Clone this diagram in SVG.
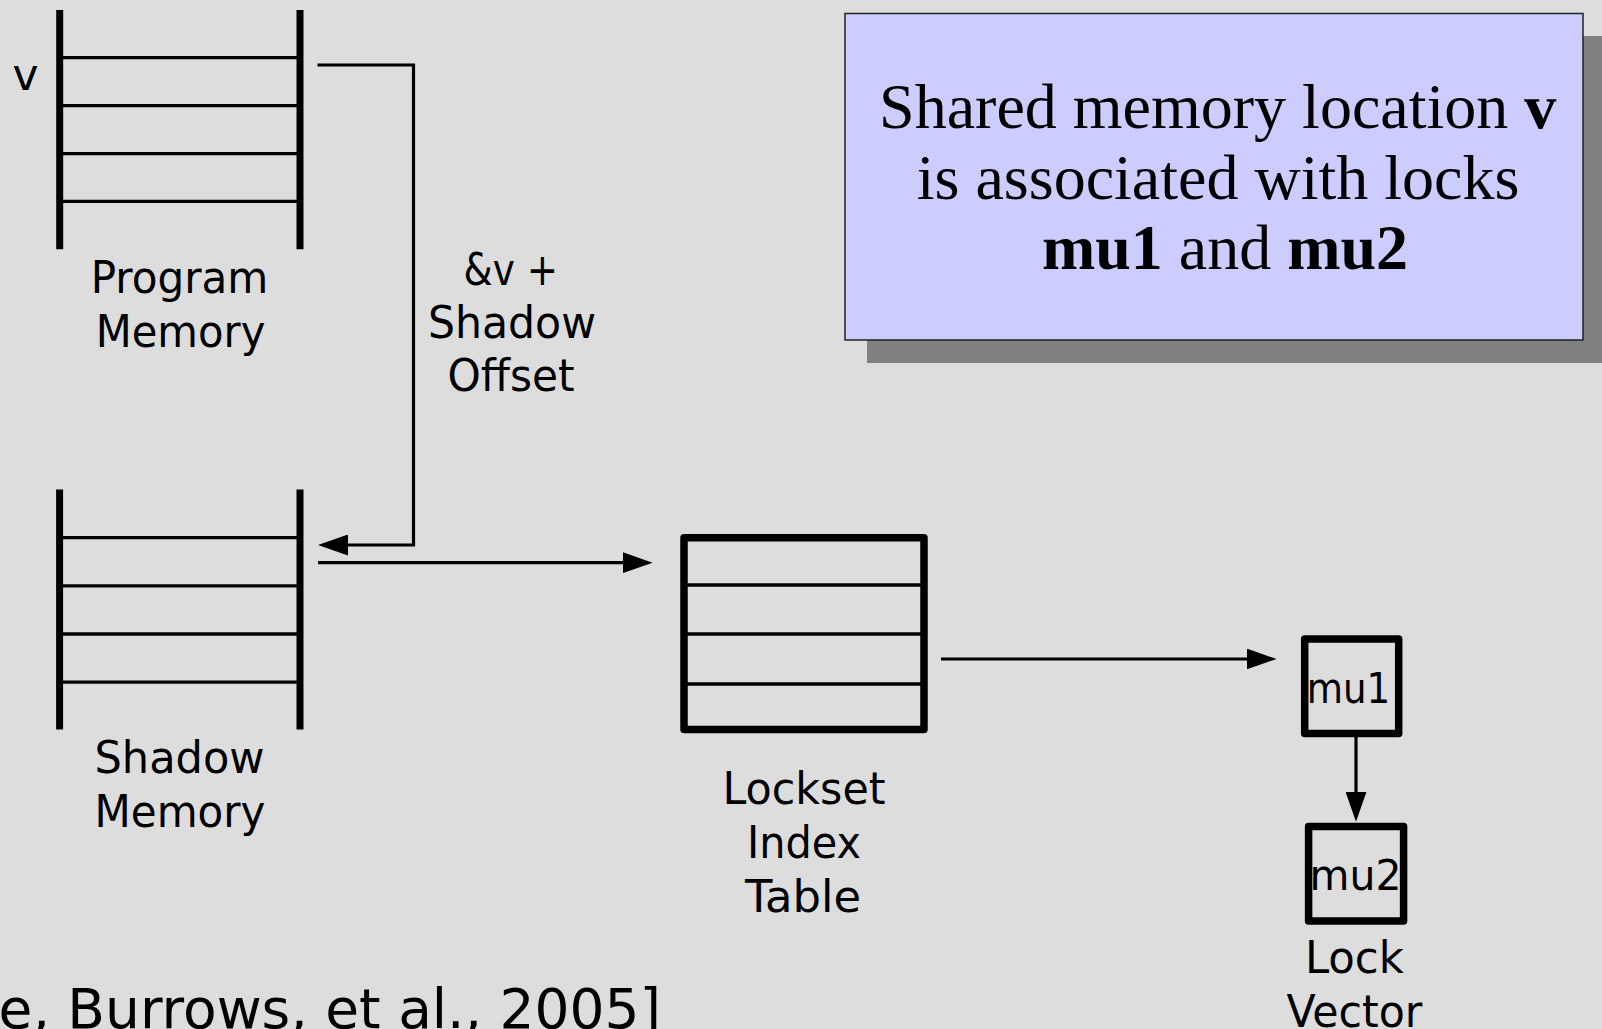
<svg xmlns="http://www.w3.org/2000/svg" width="1602" height="1029" viewBox="0 0 1602 1029">
<style>
.lbl{font-family:"DejaVu Sans","Liberation Sans",sans-serif;font-size:44px;fill:#000;text-anchor:middle}
.mu{font-size:42px}
.rail{stroke:#000;stroke-width:7;fill:none}
.rung{stroke:#000;stroke-width:3.3;fill:none}
.box{stroke:#000;stroke-width:7.5;fill:none;stroke-linejoin:round}
.conn{stroke:#000;stroke-width:3.2;fill:none}
.note{font-family:"Liberation Serif","Times New Roman",serif;font-size:64px;fill:#000;text-anchor:middle}
</style>
<defs>
<marker id="arr" markerUnits="userSpaceOnUse" markerWidth="30" markerHeight="21" viewBox="0 0 30 21" refX="5" refY="10.5" orient="auto">
<path d="M0,0 L30,10.5 L0,21 z" fill="#000"/>
</marker>
</defs>
<rect x="0" y="0" width="1602" height="1029" fill="#dddddd"/>

<g id="program-memory">
<line class="rail" x1="59.7" y1="10" x2="59.7" y2="249.3"/>
<line class="rail" x1="300" y1="10" x2="300" y2="249.3"/>
<line class="rung" x1="59.7" y1="57.7" x2="300" y2="57.7"/>
<line class="rung" x1="59.7" y1="105.7" x2="300" y2="105.7"/>
<line class="rung" x1="59.7" y1="153.7" x2="300" y2="153.7"/>
<line class="rung" x1="59.7" y1="201.3" x2="300" y2="201.3"/>
<text class="lbl" x="25.5" y="90">v</text>
<text class="lbl" x="179.5" y="293.3" textLength="177.6" lengthAdjust="spacingAndGlyphs">Program</text>
<text class="lbl" x="180.5" y="346.5" textLength="169.7" lengthAdjust="spacingAndGlyphs">Memory</text>
</g>

<g id="shadow-memory">
<line class="rail" x1="59.6" y1="489.6" x2="59.6" y2="729.5"/>
<line class="rail" x1="300" y1="489.6" x2="300" y2="729.5"/>
<line class="rung" x1="59.6" y1="537.7" x2="300" y2="537.7"/>
<line class="rung" x1="59.6" y1="585.9" x2="300" y2="585.9"/>
<line class="rung" x1="59.6" y1="634" x2="300" y2="634"/>
<line class="rung" x1="59.6" y1="682.1" x2="300" y2="682.1"/>
<text class="lbl" x="179.5" y="773" textLength="170" lengthAdjust="spacingAndGlyphs">Shadow</text>
<text class="lbl" x="180" y="826.5" textLength="171" lengthAdjust="spacingAndGlyphs">Memory</text>
</g>

<g id="lockset-index-table">
<rect class="box" x="684" y="537.8" width="240" height="191.7"/>
<line class="rung" x1="684" y1="585" x2="924" y2="585"/>
<line class="rung" x1="684" y1="634" x2="924" y2="634"/>
<line class="rung" x1="684" y1="684" x2="927" y2="684"/>
<text class="lbl" x="804" y="804" textLength="163" lengthAdjust="spacingAndGlyphs">Lockset</text>
<text class="lbl" x="804" y="858" textLength="114" lengthAdjust="spacingAndGlyphs">Index</text>
<text class="lbl" x="803" y="911.5" textLength="116" lengthAdjust="spacingAndGlyphs">Table</text>
</g>

<g id="mu1">
<rect class="box" x="1304.7" y="638.9" width="94" height="94.5"/>
<text class="lbl mu" x="1348.5" y="702.7" textLength="83.5" lengthAdjust="spacingAndGlyphs">mu1</text>
</g>

<g id="mu2">
<rect class="box" x="1308.6" y="826.6" width="95" height="94.4"/>
<text class="lbl mu" x="1355.5" y="890" textLength="92" lengthAdjust="spacingAndGlyphs">mu2</text>
</g>

<g id="lock-vector-label">
<text class="lbl" x="1354.4" y="973.3" textLength="99" lengthAdjust="spacingAndGlyphs">Lock</text>
<text class="lbl" x="1354.4" y="1026.5" textLength="136" lengthAdjust="spacingAndGlyphs">Vector</text>
</g>

<g id="offset-label">
<text class="lbl" x="510.8" y="285" textLength="94.4" lengthAdjust="spacingAndGlyphs">&amp;v +</text>
<text class="lbl" x="512" y="338" textLength="168" lengthAdjust="spacingAndGlyphs">Shadow</text>
<text class="lbl" x="511" y="390.5" textLength="127" lengthAdjust="spacingAndGlyphs">Offset</text>
</g>

<g id="note">
<rect x="867" y="36" width="760" height="327" fill="#808080"/>
<rect x="845" y="13.5" width="738" height="326.5" fill="#ccccff" stroke="#222" stroke-width="1.5"/>
<text class="note" x="1217.7" y="128.3">Shared memory location <tspan font-weight="bold">v</tspan></text>
<text class="note" x="1218" y="199.3">is associated with locks</text>
<text class="note" x="1225" y="269.3"><tspan font-weight="bold">mu1</tspan> and <tspan font-weight="bold">mu2</tspan></text>
</g>

<g id="citation">
<text x="661" y="1027.5" font-family="DejaVu Sans, Liberation Sans, sans-serif" font-size="55" text-anchor="end" fill="#000">e, Burrows, et al., 2005]</text>
</g>

<g id="connectors">
<path class="conn" d="M317.5,65 H413.5 V545 H343" marker-end="url(#arr)"/>
<path class="conn" d="M318,562.7 H627.6" marker-end="url(#arr)"/>
<path class="conn" d="M941,659 H1251.6" marker-end="url(#arr)"/>
<path class="conn" d="M1356,733 V796.7" marker-end="url(#arr)"/>
</g>
</svg>
